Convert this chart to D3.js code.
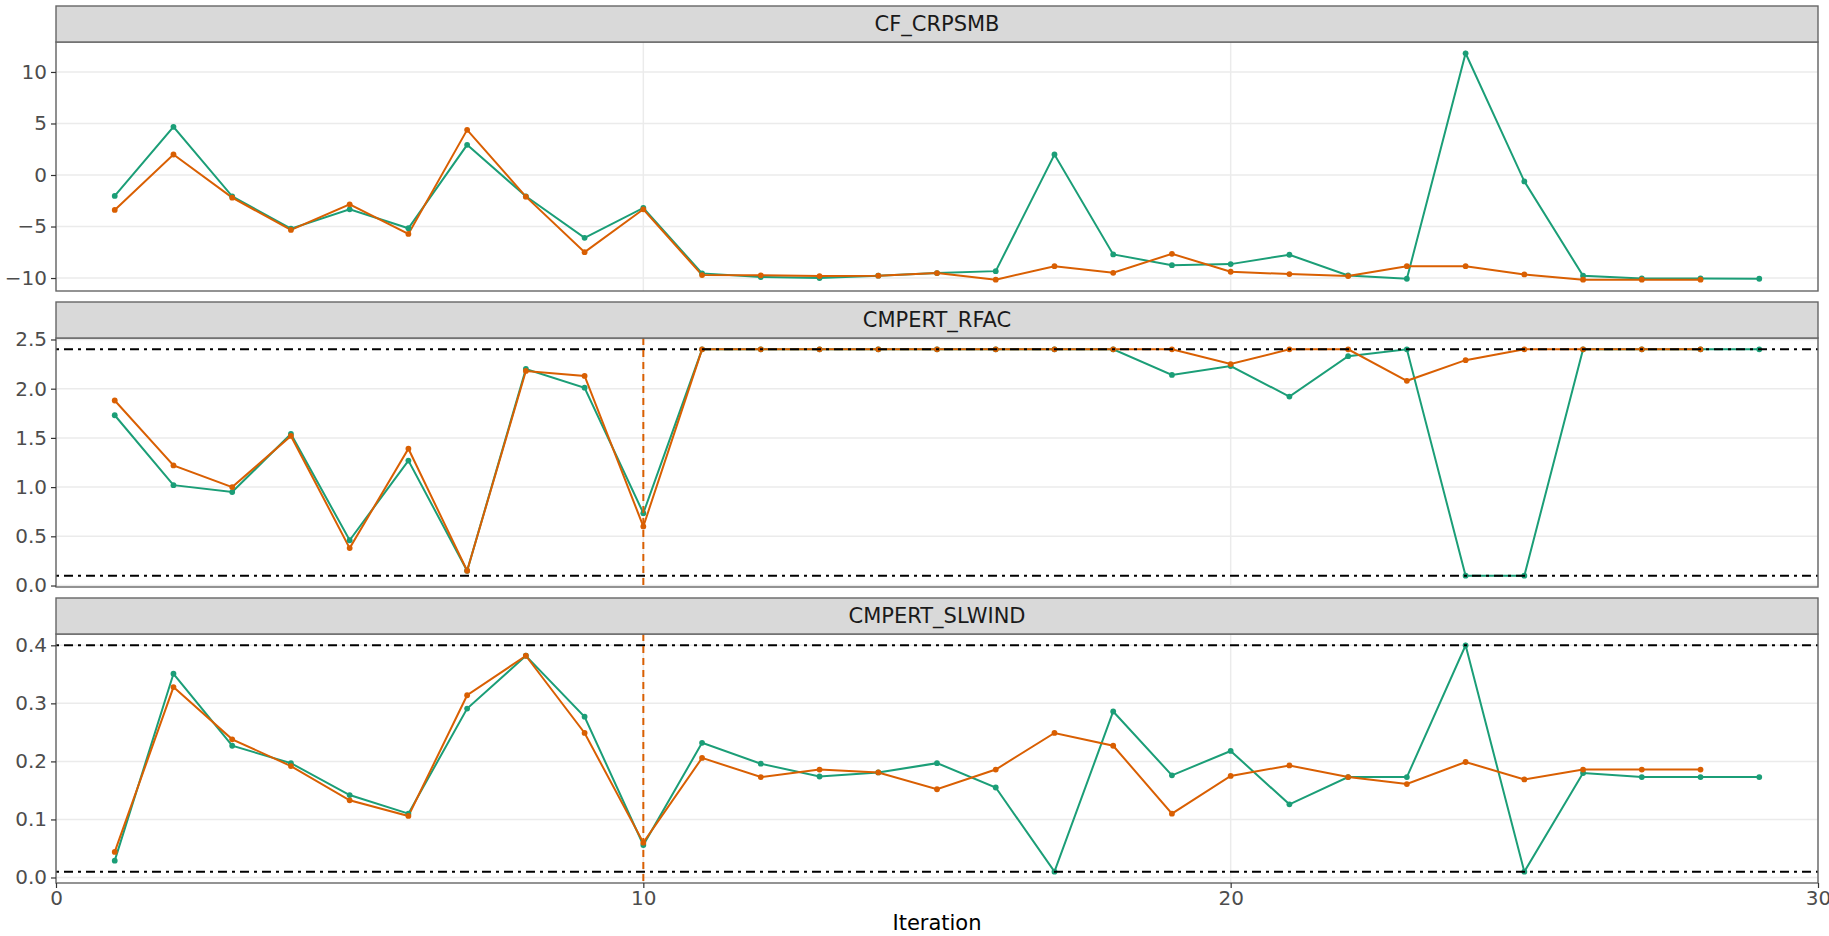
<!DOCTYPE html>
<html>
<head>
<meta charset="utf-8">
<script src="https://cdn.jsdelivr.net/npm/d3@7"></script>
<style>
  body { margin: 0; background: #ffffff; }
  svg { display: block; font-family: "DejaVu Sans", sans-serif; }
</style>
</head>
<body>
<svg id="chart" width="1829" height="936"></svg>
<script>
// ---------------- data ----------------
const iterA = [1,2,3,4,5,6,7,8,9,10,11,12,13,14,15,16,17,18,19,20,21,22,23,24,25,26,27,28,29];
const iterB = [1,2,3,4,5,6,7,8,9,10,11,12,13,14,15,16,17,18,19,20,21,22,23,24,25,26,27,28];

const crpsmbA = [-2.03, 4.68, -2.07, -5.2, -3.33, -5.17, 2.93, -2.07, -6.1, -3.2,
                 -9.55, -9.9, -10.0, -9.77, -9.52, -9.33, 1.99, -7.71, -8.75, -8.65,
                 -7.74, -9.75, -10.07, 11.81, -0.62, -9.78, -10.04, -10.04, -10.07];
const crpsmbB = [-3.39, 1.99, -2.2, -5.33, -2.85, -5.72, 4.38, -2.1, -7.49, -3.33,
                 -9.71, -9.74, -9.81, -9.77, -9.52, -10.16, -8.85, -9.49, -7.65, -9.39,
                 -9.62, -9.81, -8.85, -8.85, -9.65, -10.16, -10.16, -10.16];

const rfacA = [1.73, 1.02, 0.95, 1.54, 0.46, 1.27, 0.15, 2.2, 2.01, 0.735,
               2.4, 2.4, 2.4, 2.4, 2.4, 2.4, 2.4, 2.4, 2.14, 2.23,
               1.92, 2.33, 2.4, 0.1, 0.1, 2.4, 2.4, 2.4, 2.4];
const rfacB = [1.88, 1.22, 1.0, 1.52, 0.38, 1.39, 0.15, 2.18, 2.13, 0.60,
               2.4, 2.4, 2.4, 2.4, 2.4, 2.4, 2.4, 2.4, 2.4, 2.25,
               2.4, 2.4, 2.08, 2.29, 2.4, 2.4, 2.4, 2.4];

const slwindA = [0.029, 0.351, 0.227, 0.197, 0.142, 0.110, 0.291, 0.382, 0.277, 0.056,
                 0.232, 0.196, 0.174, 0.181, 0.197, 0.155, 0.01, 0.286, 0.176, 0.218,
                 0.126, 0.173, 0.173, 0.4, 0.01, 0.180, 0.173, 0.173, 0.173];
const slwindB = [0.044, 0.328, 0.238, 0.192, 0.133, 0.106, 0.314, 0.382, 0.249, 0.060,
                 0.206, 0.173, 0.186, 0.181, 0.152, 0.186, 0.249, 0.227, 0.110, 0.175,
                 0.193, 0.173, 0.161, 0.199, 0.169, 0.186, 0.186, 0.186];

const panelNames = ["CF_CRPSMB", "CMPERT_RFAC", "CMPERT_SLWIND"];
const yTicksCrpsmb = [-10, -5, 0, 5, 10];
const yTicksRfac = [0, 0.5, 1.0, 1.5, 2.0, 2.5];
const yTicksSlwind = [0, 0.1, 0.2, 0.3, 0.4];
const xTicks = [0, 10, 20, 30];
const xLimits = [0, 30];
const rfacBounds = [0.1, 2.4];
const slwindBounds = [0.01, 0.4];
const markIteration = 10;
const xTitle = "Iteration";

const colorA = "#1B9E77";
const colorB = "#D95F02";

// ---------------- layout ----------------
const W = 1829, H = 936;
const left = 56, right = 1818;
const top0 = 6, stripH = 36, plotH = 249, gap = 11;

const panels = [
  { name: panelNames[0], a: crpsmbA, b: crpsmbB, ticks: yTicksCrpsmb, bounds: [], vline: false, fmt: d3.format("d") },
  { name: panelNames[1], a: rfacA, b: rfacB, ticks: yTicksRfac, bounds: rfacBounds, vline: true, fmt: d3.format(".1f") },
  { name: panelNames[2], a: slwindA, b: slwindB, ticks: yTicksSlwind, bounds: slwindBounds, vline: true, fmt: d3.format(".1f") }
];

const svg = d3.select("#chart");
const x = d3.scaleLinear().domain(xLimits).range([left, right]);

panels.forEach((p, i) => {
  const stripTop = top0 + i * (stripH + plotH + gap);
  const pTop = stripTop + stripH;
  const pBot = pTop + plotH;

  const all = p.a.concat(p.b, p.bounds);
  const [mn, mx] = d3.extent(all);
  const pad = (mx - mn) * 0.05;
  const y = d3.scaleLinear().domain([mn - pad, mx + pad]).range([pBot, pTop]);

  const g = svg.append("g");

  // panel background
  g.append("rect").attr("x", left).attr("y", pTop).attr("width", right - left).attr("height", plotH)
    .attr("fill", "#ffffff");

  // grid
  g.append("g").selectAll("line").data(p.ticks).join("line")
    .attr("x1", left).attr("x2", right)
    .attr("y1", d => y(d)).attr("y2", d => y(d))
    .attr("stroke", "#EBEBEB").attr("stroke-width", 1.5);
  g.append("g").selectAll("line").data(xTicks).join("line")
    .attr("x1", d => x(d)).attr("x2", d => x(d))
    .attr("y1", pTop).attr("y2", pBot)
    .attr("stroke", "#EBEBEB").attr("stroke-width", 1.5);

  const line = d3.line().x(d => x(d[0])).y(d => y(d[1]));
  const ptsA = iterA.map((it, k) => [it, p.a[k]]);
  const ptsB = iterB.map((it, k) => [it, p.b[k]]);

  g.append("path").datum(ptsA).attr("d", line).attr("fill", "none")
    .attr("stroke", colorA).attr("stroke-width", 2);
  g.append("path").datum(ptsB).attr("d", line).attr("fill", "none")
    .attr("stroke", colorB).attr("stroke-width", 2);

  g.append("g").selectAll("circle").data(ptsA).join("circle")
    .attr("cx", d => x(d[0])).attr("cy", d => y(d[1])).attr("r", 2.9).attr("fill", colorA);
  g.append("g").selectAll("circle").data(ptsB).join("circle")
    .attr("cx", d => x(d[0])).attr("cy", d => y(d[1])).attr("r", 2.9).attr("fill", colorB);

  // bounds (dot-dash)
  g.append("g").selectAll("line").data(p.bounds).join("line")
    .attr("x1", left).attr("x2", right)
    .attr("y1", d => y(d)).attr("y2", d => y(d))
    .attr("stroke", "#000000").attr("stroke-width", 2)
    .attr("stroke-dasharray", "3,5,9,5");

  if (p.vline) {
    g.append("line")
      .attr("x1", x(markIteration)).attr("x2", x(markIteration))
      .attr("y1", pTop).attr("y2", pBot)
      .attr("stroke", colorB).attr("stroke-width", 2)
      .attr("stroke-dasharray", "7,5");
  }

  // panel border
  g.append("rect").attr("x", left).attr("y", pTop).attr("width", right - left).attr("height", plotH)
    .attr("fill", "none").attr("stroke", "#666666").attr("stroke-width", 1.4);

  // strip
  g.append("rect").attr("x", left).attr("y", stripTop).attr("width", right - left).attr("height", stripH)
    .attr("fill", "#D9D9D9").attr("stroke", "#666666").attr("stroke-width", 1.4);
  g.append("text").attr("x", (left + right) / 2).attr("y", stripTop + stripH / 2)
    .attr("text-anchor", "middle").attr("dominant-baseline", "central")
    .attr("font-size", 21).attr("fill", "#1A1A1A").text(p.name);

  // y axis
  const ya = g.append("g").attr("transform", `translate(${left},0)`)
    .call(d3.axisLeft(y).tickValues(p.ticks).tickFormat(p.fmt).tickSize(5).tickPadding(4));
  ya.select(".domain").remove();
  ya.selectAll(".tick line").attr("stroke", "#333333").attr("stroke-width", 1.2);
  ya.selectAll(".tick text").attr("font-size", 20).attr("fill", "#4D4D4D")
    .attr("font-family", "DejaVu Sans, sans-serif");

  if (i === panels.length - 1) {
    const xa = g.append("g").attr("transform", `translate(0,${pBot})`)
      .call(d3.axisBottom(x).tickValues(xTicks).tickFormat(d3.format("d")).tickSize(5).tickPadding(3));
    xa.select(".domain").remove();
    xa.selectAll(".tick line").attr("stroke", "#333333").attr("stroke-width", 1.2);
    xa.selectAll(".tick text").attr("font-size", 20).attr("fill", "#4D4D4D")
      .attr("font-family", "DejaVu Sans, sans-serif");

    svg.append("text").attr("x", (left + right) / 2).attr("y", 930)
      .attr("text-anchor", "middle").attr("font-size", 21).attr("fill", "#000000")
      .text(xTitle);
  }
});
</script>
</body>
</html>
